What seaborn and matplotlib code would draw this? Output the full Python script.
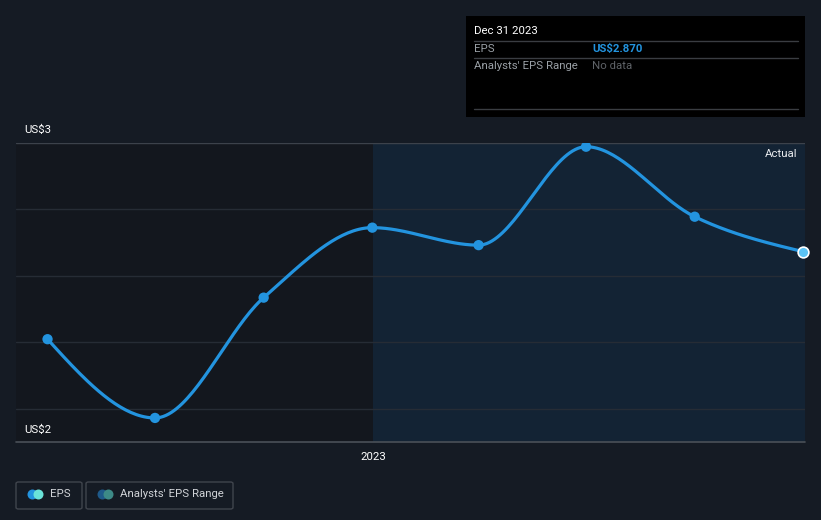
import numpy as np
import pandas as pd
import matplotlib
matplotlib.use("Agg")
import matplotlib.pyplot as plt
import seaborn as sns
from matplotlib.patches import FancyBboxPatch, Rectangle
import matplotlib.dates as mdates

# ---------------- data ----------------
dates = ["2022-03-31", "2022-06-30", "2022-09-30", "2022-12-31",
         "2023-03-31", "2023-06-30", "2023-09-30", "2023-12-31"]
eps = [2.47, 2.11, 2.66, 2.98, 2.90, 3.35, 3.03, 2.87]
y_labels = ["US$3", "US$2"]
x_tick_label = "2023"
tooltip_date = "Dec 31 2023"
tooltip_eps = "US$2.870"

# ---------------- helpers ----------------
def monotone_curve(x, y, n=40):
    x = np.asarray(x, float); y = np.asarray(y, float)
    h = np.diff(x); s = np.diff(y) / h
    m = len(x)
    t = np.zeros(m)
    for i in range(1, m - 1):
        p = (s[i-1] * h[i] + s[i] * h[i-1]) / (h[i-1] + h[i])
        t[i] = (np.sign(s[i-1]) + np.sign(s[i])) * min(abs(s[i-1]), abs(s[i]), 0.5 * abs(p))
    t[0] = (3 * s[0] - t[1]) / 2
    t[-1] = (3 * s[-1] - t[-2]) / 2
    xs, ys = [], []
    for i in range(m - 1):
        dx = h[i]
        p0 = (x[i], y[i]); p3 = (x[i+1], y[i+1])
        p1 = (x[i] + dx / 3, y[i] + dx * t[i] / 3)
        p2 = (x[i+1] - dx / 3, y[i+1] - dx * t[i+1] / 3)
        u = np.linspace(0, 1, n, endpoint=(i == m - 2))
        bx = (1-u)**3*p0[0] + 3*(1-u)**2*u*p1[0] + 3*(1-u)*u**2*p2[0] + u**3*p3[0]
        by = (1-u)**3*p0[1] + 3*(1-u)**2*u*p1[1] + 3*(1-u)*u**2*p2[1] + u**3*p3[1]
        xs.append(bx); ys.append(by)
    return np.concatenate(xs), np.concatenate(ys)

# ---------------- style ----------------
BG = "#151b24"
sns.set_theme(style="dark")
plt.rcParams["font.family"] = ["Roboto", "DejaVu Sans"]
FS = 8.2

W, H = 821, 520
fig = plt.figure(figsize=(W / 100, H / 100), dpi=100)
fig.patch.set_facecolor(BG)

L, R, T, B = 16, 805, 143, 442
ax = fig.add_axes([L / W, (H - B) / H, (R - L) / W, (B - T) / H])
ax.set_facecolor("#13171e")

d = pd.to_datetime(dates)
xnum = mdates.date2num(d)
df = pd.DataFrame({"x": xnum, "eps": eps})

x_left = xnum[0] - 26.7
x_right = xnum[-1] + 1.4
ax.set_xlim(x_left, x_right)
ax.set_ylim(2.0, 3.367)

# shaded "past year" region
x2023 = mdates.date2num(pd.Timestamp("2023-01-01"))
ax.axvspan(x2023, x_right, color="#132334", zorder=0, lw=0)

# gridlines (axes fractions)
for yf, c in [(1.0, "#3c424b"), (0.779, "#262c35"), (0.555, "#262c35"),
              (0.334, "#262c35"), (0.110, "#262c35")]:
    ax.plot([0, 1], [yf, yf], transform=ax.transAxes, color=c, lw=1, zorder=1)
ax.plot([0, 1], [0, 0], transform=ax.transAxes, color="#4a5058", lw=1.2, zorder=1, clip_on=False)

# curve
cx, cy = monotone_curve(df["x"], df["eps"])
sns.lineplot(x=cx, y=cy, ax=ax, color="#2394df", lw=2.3, sort=False, zorder=3, estimator=None)
sns.scatterplot(data=df.iloc[:-1], x="x", y="eps", ax=ax, color="#2394df", s=55,
                edgecolor="none", zorder=4)
sns.scatterplot(data=df.iloc[-1:], x="x", y="eps", ax=ax, color="#5cc4f5", s=60,
                edgecolor="white", linewidth=1.2, zorder=5, clip_on=False)

ax.set_xlabel(""); ax.set_ylabel("")
ax.set_xticks([x2023])
ax.set_xticklabels([x_tick_label], color="white", fontsize=FS)
ax.tick_params(axis="x", length=4, color="#4a5058", pad=3, width=1)
ax.set_yticks([])
for sp in ax.spines.values():
    sp.set_visible(False)
ax.grid(False)

# y labels
fig.text(24 / W, 1 - 130 / H, y_labels[0], color="white", fontsize=FS, va="center", ha="left")
fig.text(24 / W, 1 - 430 / H, y_labels[1], color="white", fontsize=FS, va="center", ha="left")

# "Actual"
fig.text(797 / W, 1 - 154 / H, "Actual", color="#e8eaed", fontsize=FS, va="center", ha="right")

# tooltip
fig.patches.append(Rectangle((466 / W, 1 - 117 / H), (805 - 466) / W, (117 - 16) / H,
                             transform=fig.transFigure, facecolor="black", edgecolor="none", zorder=10))
for yy in [41, 58, 109]:
    fig.lines.append(plt.Line2D([474 / W, 798 / W], [1 - yy / H, 1 - yy / H],
                                transform=fig.transFigure, color="#3a3d42", lw=1, zorder=11))
fig.text(474 / W, 1 - 31 / H, tooltip_date, color="white", fontsize=FS, va="center", zorder=12)
fig.text(474 / W, 1 - 49 / H, "EPS", color="#9aa0a6", fontsize=FS, va="center", zorder=12)
fig.text(592 / W, 1 - 49 / H, tooltip_eps, color="#2394df", fontsize=FS, va="center",
         fontweight="bold", zorder=12)
fig.text(474 / W, 1 - 66 / H, "Analysts' EPS Range", color="#9aa0a6", fontsize=FS, va="center", zorder=12)
fig.text(592 / W, 1 - 66 / H, "No data", color="#5f6368", fontsize=FS, va="center", zorder=12)

# legend
def legend_box(x0, x1, c1, c2, label):
    fig.patches.append(FancyBboxPatch((x0 / W, 1 - 509 / H), (x1 - x0) / W, 27 / H,
                                      boxstyle="round,pad=0,rounding_size=0.003",
                                      transform=fig.transFigure, facecolor="none",
                                      edgecolor="#40454d", lw=1))
    cy_ = 1 - 494 / H
    fig.lines.append(plt.Line2D([(x0 + 16) / W], [cy_], transform=fig.transFigure, marker="o",
                                markersize=7.2, color=c1, markeredgewidth=0, linestyle="none"))
    fig.lines.append(plt.Line2D([(x0 + 22) / W], [cy_], transform=fig.transFigure, marker="o",
                                markersize=7.2, color=c2, markeredgewidth=0, linestyle="none"))
    fig.text((x0 + 34) / W, cy_, label, color="#d0d3d7", fontsize=FS, va="center")

legend_box(16, 82, "#2394df", "#6ae3d9", "EPS")
legend_box(86, 233, "#1f5a8a", "#3d8a87", "Analysts' EPS Range")

fig.savefig("out.png", dpi=100, facecolor=BG)
